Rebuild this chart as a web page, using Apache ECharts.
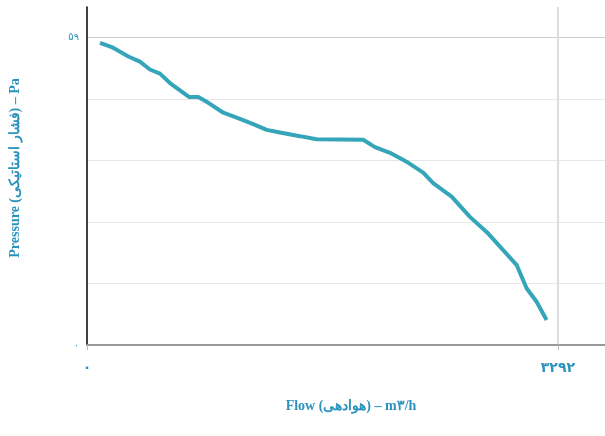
<!DOCTYPE html>
<html>
<head>
<meta charset="utf-8">
<script src="https://cdn.jsdelivr.net/npm/echarts@6/dist/echarts.min.js"></script>
<style>
html,body{margin:0;padding:0;background:#fff;}
#chart{width:605px;height:436px;}
</style>
</head>
<body>
<div id="chart"></div>
<script>
var flow = [91,173,289,370,440,510,580,650,715,778,848,953,1069,1162,1256,1349,1489,1605,1931,2013,2118,2234,2350,2420,2549,2677,2805,2933,3003,3073,3143,3213];
var pressure = [58.0,57.2,55.4,54.4,52.9,52.1,50.3,48.9,47.6,47.6,46.5,44.6,43.4,42.4,41.3,40.8,40.1,39.5,39.4,38.0,36.9,35.2,33.1,31.1,28.5,24.6,21.4,17.5,15.4,10.9,8.3,4.8];
var xMaxValue = 3292;
var yMaxValue = 59;
var xTitle = 'Flow (هوادهی) – m۳/h';
var yTitle = 'Pressure (فشار استاتیکی) – Pa';

function fa(n){
  var d='۰۱۲۳۴۵۶۷۸۹';
  return String(n).replace(/[0-9]/g,function(c){return d[+c];});
}
var pts = flow.map(function(x,i){return [x,pressure[i]];});
var teal = '#2b93bd';
var chart = echarts.init(document.getElementById('chart'));
chart.setOption({
  animation:false,
  grid:{left:87,right:0,top:7,bottom:91,containLabel:false,outerBoundsMode:'none'},
  xAxis:{
    type:'value', min:0, max:xMaxValue*1.1, interval:xMaxValue,
    name:xTitle, nameLocation:'middle', nameGap:54,
    nameTextStyle:{color:teal,fontFamily:'Liberation Serif',fontWeight:'bold',fontSize:14,padding:[0,0,0,10]},
    axisLine:{show:true,lineStyle:{color:'#999',width:2}},
    axisTick:{show:true,length:5,lineStyle:{color:'#bbb'}},
    axisLabel:{margin:16,color:teal,fontWeight:'bold',fontSize:14,fontFamily:'DejaVu Sans',
      formatter:function(v){ if(v===0) return fa(0); if(Math.abs(v-xMaxValue)<0.5) return fa(xMaxValue); return '';}},
    splitLine:{show:true,showMinLine:false,showMaxLine:false,lineStyle:{color:'#ddd',width:2}}
  },
  yAxis:{
    type:'value', min:0, max:yMaxValue*1.1, interval:yMaxValue/5,
    name:yTitle, nameLocation:'middle', nameGap:65, nameRotate:90,
    nameTextStyle:{color:teal,fontFamily:'Liberation Serif',fontWeight:'bold',fontSize:14,padding:[0,0,0,16]},
    axisLine:{show:true,lineStyle:{color:'#000',width:1.5}},
    axisTick:{show:false},
    axisLabel:{margin:8,color:teal,fontSize:10,fontFamily:'DejaVu Sans',
      formatter:function(v){ if(v===0) return fa(0); if(Math.abs(v-yMaxValue)<0.01) return fa(yMaxValue); return '';}},
    splitLine:{show:true,showMaxLine:false,lineStyle:{color:['#e6e6e6','#e6e6e6','#e6e6e6','#e6e6e6','#e6e6e6','#cccccc'],width:1}}
  },
  series:[{
    type:'line', data:pts, showSymbol:false, smooth:false,
    lineStyle:{color:'#35a5b9',width:4},
    itemStyle:{color:'#35a5b9'}
  }]
});
</script>
</body>
</html>
